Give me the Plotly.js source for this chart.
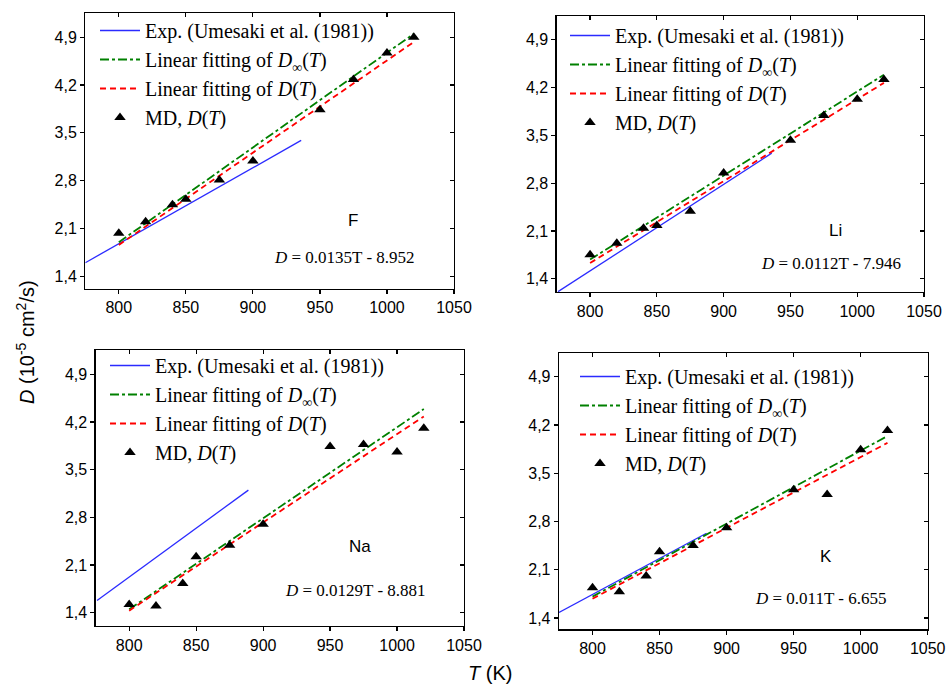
<!DOCTYPE html>
<html>
<head>
<meta charset="utf-8">
<script src="https://cdn.plot.ly/plotly-3.0.1.min.js"></script>
<style>html,body{margin:0;padding:0;background:#fff;}#chart{width:947px;height:688px;}</style>
</head>
<body>
<div id="chart"></div>
<script>
// ---- data ----
const temps = [800, 820, 840, 850, 875, 900, 950, 975, 1000, 1020];
const mdF  = [2.03, 2.20, 2.45, 2.53, 2.81, 3.09, 3.84, 4.28, 4.67, 4.90];
const mdLi = [1.75, 1.92, 2.14, 2.18, 2.39, 2.95, 3.43, 3.79, 4.03, 4.32];
const mdNa = [1.52, 1.50, 1.83, 2.22, 2.39, 2.70, 3.84, 3.87, 3.76, 4.11];
const mdK  = [1.84, 1.78, 2.01, 2.36, 2.45, 2.71, 3.26, 3.19, 3.84, 4.12];

const fitT = [800, 1020];
const fitDF  = [1.86, 4.83], fitDinfF  = [1.90, 4.95];
const fitDLi = [1.63, 4.27], fitDinfLi = [1.68, 4.39];
const fitDNa = [1.43, 4.28], fitDinfNa = [1.45, 4.39];
const fitDK  = [1.68, 3.94], fitDinfK  = [1.71, 4.04];

const expTF  = [775, 936], expDF  = [1.60, 3.39];
const expTLi = [776, 936], expDLi = [1.21, 3.24];
const expTNa = [776, 889], expDNa = [1.58, 3.20];
const expTK  = [775, 885], expDK  = [1.48, 2.63];

const xTicks = [800, 850, 900, 950, 1000, 1050];
const yTicks = [1.4, 2.1, 2.8, 3.5, 4.2, 4.9];
const yTickText = ['1,4', '2,1', '2,8', '3,5', '4,2', '4,9'];

const ionNames = ['F', 'Li', 'Na', 'K'];
const equations = ['0.0135T - 8.952', '0.0112T - 7.946', '0.0129T - 8.881', '0.011T - 6.655'];
const ionLabelPos = [[975, 2.22], [984, 2.11], [972, 2.37], [974, 2.29]];
const eqPos = [[968, 1.68], [980, 1.63], [969, 1.73], [970, 1.69]];

// ---- layout geometry (pixels) ----
const W = 947, H = 688;
const panels = [
  {x0: 85.3, x1: 454, y0: 13.3, y1: 288.7, yr: [1.22, 5.25], leg: [95, 11]},
  {x0: 556.7, x1: 924, y0: 16, y1: 292, yr: [1.205, 5.25], leg: [565, 16]},
  {x0: 95.7, x1: 464, y0: 350, y1: 626, yr: [1.205, 5.257], leg: [105, 346]},
  {x0: 559, x1: 927.7, y0: 353.3, y1: 629.3, yr: [1.236, 5.24], leg: [575, 357]}
];
const md = [mdF, mdLi, mdNa, mdK];
const fitD = [fitDF, fitDLi, fitDNa, fitDK];
const fitDinf = [fitDinfF, fitDinfLi, fitDinfNa, fitDinfK];
const expT = [expTF, expTLi, expTNa, expTK];
const expD = [expDF, expDLi, expDNa, expDK];

const serif = 'Liberation Serif, Times New Roman, serif';
const sans = 'Liberation Sans, Arial, sans-serif';

const traces = [];
const layout = {
  width: W, height: H,
  margin: {l: 0, r: 0, t: 0, b: 0},
  paper_bgcolor: '#fff', plot_bgcolor: '#fff',
  font: {family: sans, size: 16, color: '#000'},
  annotations: [],
  showlegend: true
};

panels.forEach((p, i) => {
  const k = i + 1;
  const xa = 'x' + (k === 1 ? '' : k), ya = 'y' + (k === 1 ? '' : k);
  const xo = 'x' + (k + 4), yo = 'y' + (k + 4);
  const legName = k === 1 ? 'legend' : 'legend' + k;
  const xd = [p.x0 / W, p.x1 / W], yd = [1 - p.y1 / H, 1 - p.y0 / H];

  traces.push({x: expT[i], y: expD[i], xaxis: xa, yaxis: ya, mode: 'lines', legend: legName,
    name: 'Exp. (Umesaki et al. (1981))', line: {color: '#2b2bff', width: 1.3}});
  traces.push({x: fitT, y: fitDinf[i], xaxis: xa, yaxis: ya, mode: 'lines', legend: legName,
    name: 'Linear fitting of <i>D</i><sub>∞</sub>(<i>T</i>)', line: {color: '#008000', width: 1.8, dash: 'dashdot'}});
  traces.push({x: fitT, y: fitD[i], xaxis: xa, yaxis: ya, mode: 'lines', legend: legName,
    name: 'Linear fitting of <i>D</i>(<i>T</i>)', line: {color: '#ff0000', width: 1.8, dash: '6px,4px'}});
  traces.push({x: temps, y: md[i], xaxis: xa, yaxis: ya, mode: 'markers', legend: legName,
    name: 'MD, <i>D</i>(<i>T</i>)', marker: {symbol: 'triangle-up', size: 10, color: '#000'}});
  traces.push({x: [null], y: [null], xaxis: xo, yaxis: yo, mode: 'markers', showlegend: false, hoverinfo: 'skip'});

  const axBase = {showgrid: false, zeroline: false, linecolor: '#000', linewidth: 1.3,
    tickcolor: '#000', tickwidth: 1.2, ticklen: 4, fixedrange: true};
  layout['xaxis' + (k === 1 ? '' : k)] = Object.assign({}, axBase, {
    domain: xd, anchor: ya, range: [775, 1050], tickvals: xTicks, ticks: 'outside',
    showline: true, mirror: true, tickfont: {family: sans, size: 16, color: '#000'}});
  layout['yaxis' + (k === 1 ? '' : k)] = Object.assign({}, axBase, {
    domain: yd, anchor: xa, range: p.yr, tickvals: yTicks, ticktext: yTickText, ticks: 'outside',
    showline: true, mirror: true, tickfont: {family: sans, size: 16, color: '#000'}});
  layout['xaxis' + (k + 4)] = Object.assign({}, axBase, {
    domain: xd, anchor: yo, overlaying: xa, side: 'top', range: [775, 1050], tickvals: xTicks,
    ticks: 'inside', showticklabels: false, showline: false});
  layout['yaxis' + (k + 4)] = Object.assign({}, axBase, {
    domain: yd, anchor: xo, overlaying: ya, side: 'right', range: p.yr, tickvals: yTicks,
    ticks: 'inside', showticklabels: false, showline: false});

  layout[legName] = {x: p.leg[0] / W, y: 1 - p.leg[1] / H, xanchor: 'left', yanchor: 'top',
    bgcolor: 'rgba(0,0,0,0)', borderwidth: 0, font: {family: serif, size: 20, color: '#000'},
    itemwidth: 40, tracegroupgap: 0};

  layout.annotations.push({xref: xa, yref: ya, x: ionLabelPos[i][0], y: ionLabelPos[i][1],
    xanchor: 'center', yanchor: 'middle',
    text: ionNames[i], showarrow: false, font: {family: sans, size: 17, color: '#000'}});
  layout.annotations.push({xref: xa, yref: ya, x: eqPos[i][0], y: eqPos[i][1],
    xanchor: 'center', yanchor: 'middle',
    text: '<i>D</i> = ' + equations[i], showarrow: false, font: {family: serif, size: 17, color: '#000'}});
});

layout.annotations.push({xref: 'paper', yref: 'paper', x: 25 / W, y: 1 - 342 / H, textangle: -90,
  xanchor: 'center', yanchor: 'middle',
  text: '<i>D</i> (10<sup>-5</sup> cm<sup>2</sup>/s)', showarrow: false, font: {family: sans, size: 20, color: '#000'}});
layout.annotations.push({xref: 'paper', yref: 'paper', x: 490 / W, y: 1 - 673 / H,
  xanchor: 'center', yanchor: 'middle',
  text: '<i>T</i> (K)', showarrow: false, font: {family: sans, size: 20, color: '#000'}});

Plotly.newPlot('chart', traces, layout, {displayModeBar: false, staticPlot: true});
</script>
</body>
</html>
